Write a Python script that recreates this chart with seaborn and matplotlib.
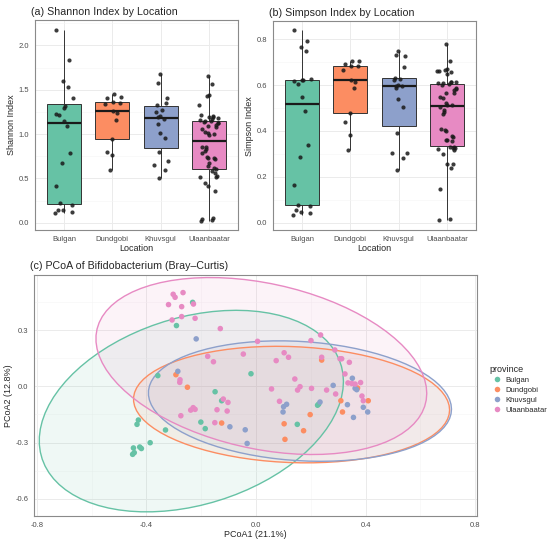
import numpy as np
import pandas as pd
import seaborn as sns
import matplotlib.pyplot as plt
from matplotlib.patches import Polygon
from matplotlib.ticker import MultipleLocator

# --- data ---
locations = ["Bulgan", "Dundgobi", "Khuvsgul", "Ulaanbaatar"]

shannon_bulgan = [2.17, 1.83, 1.60, 1.53, 1.41, 1.32, 1.30, 1.23, 1.22, 1.15, 1.09,
                  0.79, 0.67, 0.42, 0.22, 0.20, 0.15, 0.14, 0.12, 0.11]
shannon_dundgobi = [1.45, 1.42, 1.41, 1.36, 1.35, 1.34, 1.26, 1.24, 1.16, 0.95, 0.80, 0.76, 0.60]
shannon_khuvsgul = [1.68, 1.58, 1.41, 1.35, 1.33, 1.27, 1.25, 1.20, 1.19, 1.17, 1.11, 1.01,
                    0.96, 0.80, 0.70, 0.65, 0.59, 0.51]
shannon_ulaanbaatar = [1.66, 1.57, 1.44, 1.43, 1.33, 1.21, 1.20, 1.19, 1.19, 1.18, 1.17, 1.16,
                       1.15, 1.15, 1.14, 1.13, 1.12, 1.10, 1.09, 1.08, 1.06, 1.02, 1.01, 1.00,
                       0.99, 0.86, 0.85, 0.83, 0.81, 0.79, 0.74, 0.73, 0.73, 0.72, 0.67, 0.64,
                       0.62, 0.61, 0.58, 0.56, 0.53, 0.52, 0.52, 0.45, 0.41, 0.36, 0.06, 0.04,
                       0.03, 0.02]

simpson_bulgan = [0.839, 0.79, 0.765, 0.75, 0.626, 0.623, 0.621, 0.618, 0.604, 0.546,
                  0.489, 0.337, 0.287, 0.164, 0.077, 0.071, 0.054, 0.046, 0.041, 0.033]
simpson_dundgobi = [0.704, 0.703, 0.69, 0.684, 0.682, 0.666, 0.62, 0.614, 0.585, 0.48,
                    0.441, 0.383, 0.315]
simpson_khuvsgul = [0.748, 0.733, 0.727, 0.678, 0.632, 0.625, 0.621, 0.600, 0.597, 0.595,
                    0.585, 0.537, 0.505, 0.392, 0.305, 0.305, 0.28, 0.228]
simpson_ulaanbaatar = [0.777, 0.704, 0.668, 0.665, 0.662, 0.660, 0.655, 0.650, 0.615, 0.613,
                       0.612, 0.610, 0.607, 0.605, 0.600, 0.585, 0.582, 0.578, 0.567, 0.565,
                       0.548, 0.545, 0.520, 0.515, 0.512, 0.505, 0.490, 0.483, 0.475, 0.410,
                       0.405, 0.400, 0.378, 0.375, 0.362, 0.360, 0.355, 0.330, 0.328, 0.327,
                       0.325, 0.322, 0.315, 0.300, 0.256, 0.254, 0.237, 0.145, 0.015, 0.012]

pc_bulgan_x = [-0.231, -0.290, -0.358, -0.149, -0.018, -0.125, -0.201, -0.185, -0.429, -0.434,
               -0.330, -0.386, -0.447, -0.424, -0.418, -0.444, -0.450, 0.151, 0.225, 0.229]
pc_bulgan_y = [0.448, 0.324, 0.057, -0.029, 0.067, -0.077, -0.191, -0.226, -0.180, -0.203,
               -0.233, -0.301, -0.329, -0.324, -0.332, -0.354, -0.363, -0.203, -0.101, -0.095]
pc_dundgobi_x = [-0.292, -0.250, -0.125, 0.240, 0.371, 0.410, 0.310, 0.316, 0.198, 0.103,
                 0.174, 0.106]
pc_dundgobi_y = [0.062, -0.005, -0.196, 0.140, -0.009, -0.077, -0.077, -0.137, -0.151, -0.200,
                 -0.237, -0.283]
pc_khuvsgul_x = [-0.218, -0.285, -0.095, -0.039, -0.032, 0.112, 0.101, 0.099, 0.352, 0.282,
                 0.362, 0.368, 0.234, 0.334, 0.392, 0.408, 0.356]
pc_khuvsgul_y = [0.253, 0.080, -0.216, -0.232, -0.305, -0.096, -0.109, -0.137, 0.043, 0.005,
                 -0.011, -0.018, -0.084, -0.098, -0.112, -0.137, -0.166]
pc_ulaan_x = [-0.302, -0.295, -0.266, -0.319, -0.271, -0.228, -0.271, -0.306, -0.222, -0.130,
              0.006, -0.176, -0.046, -0.278, -0.119, -0.102, -0.229, -0.238, -0.222, -0.142,
              -0.105, -0.274, -0.150, 0.074, 0.103, 0.119, 0.142, 0.057, 0.152, 0.161,
              0.086, 0.201, 0.236, 0.240, 0.288, 0.307, 0.313, 0.341, 0.325, 0.336,
              0.350, 0.362, 0.382, 0.203, 0.258, 0.291, 0.387, 0.392, -0.155, -0.277]
pc_ulaan_y = [0.491, 0.475, 0.500, 0.436, 0.425, 0.439, 0.372, 0.354, 0.363, 0.308,
              0.240, 0.160, 0.172, 0.021, -0.068, -0.086, -0.114, -0.127, -0.123, -0.125,
              -0.132, -0.157, -0.194, 0.137, 0.179, 0.155, 0.039, -0.014, -0.020, -0.002,
              -0.080, 0.244, 0.274, 0.155, 0.194, 0.147, 0.147, 0.128, 0.066, 0.018,
              0.015, 0.012, 0.020, -0.011, -0.020, -0.041, -0.052, -0.077, 0.131, 0.035]

# --- tables ---
alpha_df = pd.concat([
    pd.DataFrame({"location": loc, "shannon": sh, "simpson": si})
    for loc, sh, si in zip(
        locations,
        [shannon_bulgan, shannon_dundgobi, shannon_khuvsgul, shannon_ulaanbaatar],
        [simpson_bulgan, simpson_dundgobi, simpson_khuvsgul, simpson_ulaanbaatar])
], ignore_index=True)

pcoa_df = pd.concat([
    pd.DataFrame({"province": loc, "pc1": px, "pc2": py})
    for loc, px, py in zip(
        locations,
        [pc_bulgan_x, pc_dundgobi_x, pc_khuvsgul_x, pc_ulaan_x],
        [pc_bulgan_y, pc_dundgobi_y, pc_khuvsgul_y, pc_ulaan_y])
], ignore_index=True)

palette = dict(zip(locations, sns.color_palette("Set2", 4)))

sns.set_theme(style="whitegrid")
plt.rcParams["font.family"] = ["Liberation Sans", "DejaVu Sans"]

fig = plt.figure(figsize=(5.5, 5.44), dpi=100)
ax_a = fig.add_axes([0.0636, 0.577, 0.369, 0.386])
ax_b = fig.add_axes([0.4964, 0.577, 0.369, 0.384])
ax_c = fig.add_axes([0.0618, 0.0515, 0.8055, 0.443])


def bw_style(ax):
    ax.set_facecolor("white")
    ax.grid(True, which="major", color="#EBEBEB", linewidth=0.7)
    ax.grid(True, which="minor", color="#F5F5F5", linewidth=0.4)
    ax.set_axisbelow(True)
    for s in ax.spines.values():
        s.set_visible(True)
        s.set_color("#8a8a8a")
        s.set_linewidth(0.8)
    ax.tick_params(axis="both", which="major", length=2.5, width=0.6, color="#333333",
                   labelsize=5.5, labelcolor="#4D4D4D", pad=1.5)
    ax.tick_params(axis="both", which="minor", length=0)


def alpha_panel(ax, col, title, ylabel, ylim, step):
    np.random.seed(7)
    sns.boxplot(data=alpha_df, x="location", y=col, hue="location", order=locations,
                hue_order=locations, palette=palette, saturation=1, width=0.7,
                showcaps=False, showfliers=False, linecolor="#333333", linewidth=0.7,
                medianprops=dict(color="#1a1a1a", linewidth=1.6), legend=False, ax=ax)
    sns.stripplot(data=alpha_df, x="location", y=col, order=locations, color="#1a1a1a",
                  size=3.0, jitter=0.2, alpha=0.85, ax=ax)
    ax.set_xlim(-0.6, 3.6)
    ax.set_ylim(*ylim)
    ax.yaxis.set_major_locator(MultipleLocator(step))
    ax.yaxis.set_minor_locator(MultipleLocator(step / 2))
    ax.yaxis.set_major_formatter(lambda v, p: f"{v:.1f}")
    bw_style(ax)
    ax.set_title(title, loc="left", fontsize=7.7, pad=4, x=-0.02)
    ax.set_xlabel("Location", fontsize=6.5, labelpad=1)
    ax.set_ylabel(ylabel, fontsize=6.5, labelpad=2)


alpha_panel(ax_a, "shannon", "(a) Shannon Index by Location", "Shannon Index",
            (-0.082, 2.285), 0.5)
alpha_panel(ax_b, "simpson", "(b) Simpson Index by Location", "Simpson Index",
            (-0.032, 0.878), 0.2)


def ellipse_xy(x, y, level=0.95, segments=80):
    # normal-theory confidence ellipse, chi-square radius with 2 df
    xy = np.column_stack([x, y]).astype(float)
    radius = np.sqrt(-2 * np.log(1 - level))
    cov = np.cov(xy, rowvar=False)
    chol = np.linalg.cholesky(cov).T
    ang = np.linspace(0, 2 * np.pi, segments)
    circ = np.column_stack([np.cos(ang), np.sin(ang)])
    return xy.mean(axis=0) + radius * circ @ chol


for loc in locations:
    sub = pcoa_df[pcoa_df.province == loc]
    pts = ellipse_xy(sub.pc1, sub.pc2)
    col = palette[loc]
    ax_c.add_patch(Polygon(pts, closed=True, facecolor=(*col, 0.1), edgecolor="none", zorder=1))
    ax_c.add_patch(Polygon(pts, closed=True, facecolor="none", edgecolor=col, linewidth=1.0,
                           zorder=2))

sns.scatterplot(data=pcoa_df, x="pc1", y="pc2", hue="province", hue_order=locations,
                palette=palette, s=16, linewidth=0, zorder=3, ax=ax_c)
ax_c.set_xlim(-0.81, 0.807)
ax_c.set_ylim(-0.692, 0.594)
ax_c.xaxis.set_major_locator(MultipleLocator(0.4))
ax_c.xaxis.set_minor_locator(MultipleLocator(0.2))
ax_c.yaxis.set_major_locator(MultipleLocator(0.3))
ax_c.yaxis.set_minor_locator(MultipleLocator(0.15))
ax_c.xaxis.set_major_formatter(lambda v, p: f"{v:.1f}")
ax_c.yaxis.set_major_formatter(lambda v, p: f"{v:.1f}")
bw_style(ax_c)
ax_c.set_title("(c) PCoA of Bifidobacterium (Bray\u2013Curtis)", loc="left", fontsize=7.7,
               pad=4, x=-0.01)
ax_c.set_xlabel("PCoA1 (21.1%)", fontsize=6.5, labelpad=1)
ax_c.set_ylabel("PCoA2 (12.8%)", fontsize=6.5, labelpad=2)
sns.move_legend(ax_c, "upper left", bbox_to_anchor=(1.02, 0.64), frameon=False,
                title="province", fontsize=5.5, title_fontsize=6.5, markerscale=1.0,
                handletextpad=0.2, labelspacing=0.35, borderaxespad=0)
leg = ax_c.get_legend()
leg._legend_box.align = "left"

fig.savefig("out.png", dpi=100)
